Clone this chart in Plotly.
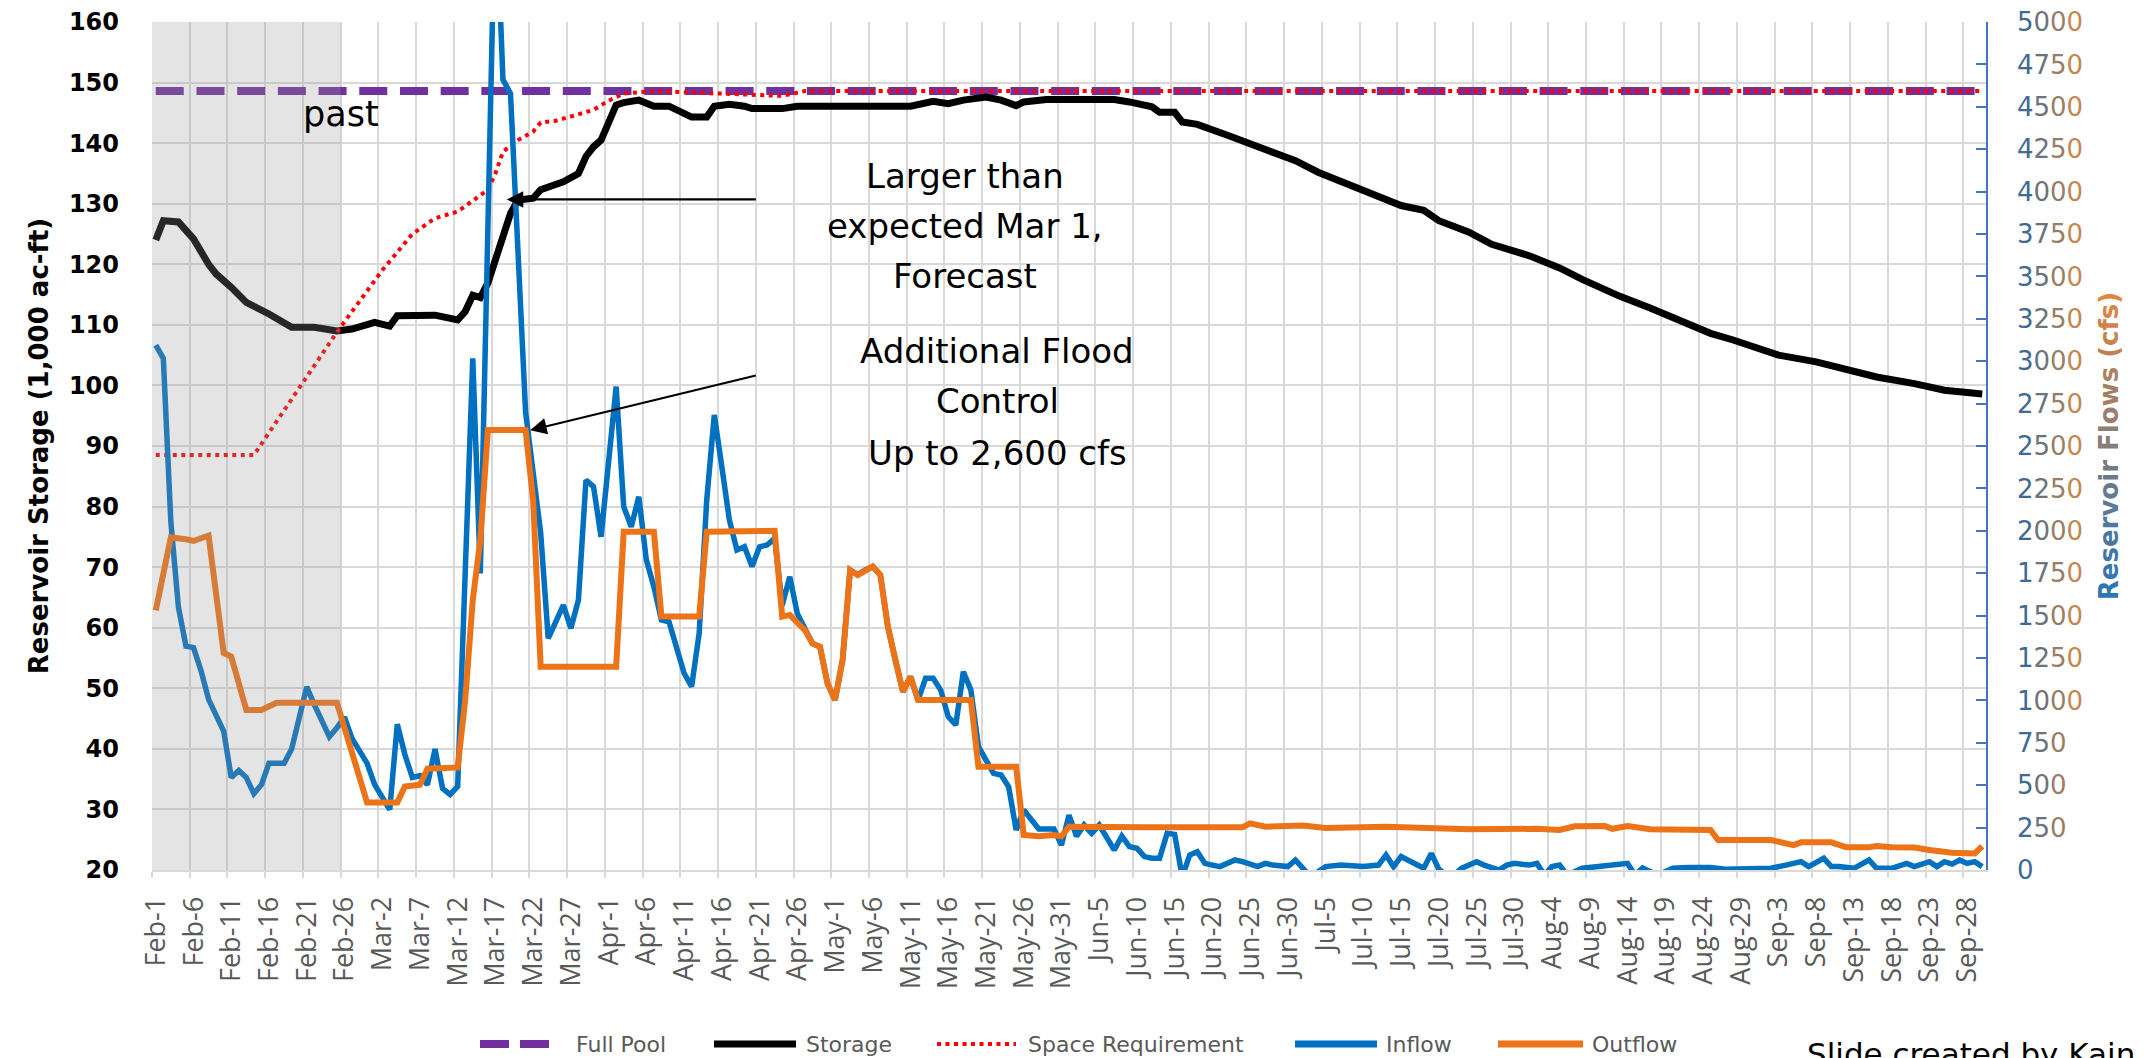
import plotly.graph_objects as go
import pandas as pd

YEAR = 2024
FULL_POOL = 148.6  # 1,000 ac-ft

# ---------------- data ----------------
storage_days = ["Feb-1", "Feb-2", "Feb-4", "Feb-6", "Feb-8", "Feb-9", "Feb-11", "Feb-13", "Feb-16", "Feb-19",
                "Feb-22", "Feb-24", "Feb-25", "Feb-27", "Mar-1", "Mar-3", "Mar-4", "Mar-9", "Mar-12", "Mar-13",
                "Mar-14", "Mar-15", "Mar-16", "Mar-19", "Mar-20", "Mar-22", "Mar-23", "Mar-26", "Mar-28", "Mar-29",
                "Mar-30", "Mar-31", "Apr-2", "Apr-3", "Apr-5", "Apr-7", "Apr-9", "Apr-12", "Apr-14", "Apr-15",
                "Apr-17", "Apr-19", "Apr-20", "Apr-24", "Apr-26", "May-11", "May-14", "May-16", "May-18", "May-21",
                "May-23", "May-25", "May-26", "May-29", "Jun-7", "Jun-9", "Jun-12", "Jun-13", "Jun-15", "Jun-16",
                "Jun-18", "Jun-22", "Jun-25", "Jun-28", "Jul-1", "Jul-4", "Jul-8", "Jul-11", "Jul-15", "Jul-18",
                "Jul-20", "Jul-24", "Jul-27", "Aug-1", "Aug-5", "Aug-8", "Aug-13", "Aug-17", "Aug-22", "Aug-25",
                "Aug-28", "Sep-3", "Sep-8", "Sep-13", "Sep-16", "Sep-21", "Sep-25", "Sep-30"]
storage_vals = [124.0, 127.2, 127.0, 124.2, 120.0, 118.4, 116.2, 113.7, 111.8, 109.6,
                109.6, 109.3, 109.0, 109.3, 110.4, 109.8, 111.5, 111.6, 110.8, 112.2,
                114.9, 114.5, 116.9, 128.4, 130.6, 130.9, 132.3, 133.6, 135.0, 137.8,
                139.4, 140.5, 146.3, 146.7, 147.1, 146.1, 146.1, 144.3, 144.3, 146.1,
                146.4, 146.1, 145.7, 145.7, 146.1, 146.1, 146.9, 146.5, 147.1, 147.6,
                147.1, 146.2, 146.8, 147.2, 147.2, 146.8, 146.0, 145.1, 145.1, 143.5,
                143.1, 141.3, 139.9, 138.5, 137.1, 135.2, 133.3, 131.9, 129.7, 128.9,
                127.2, 125.3, 123.3, 121.4, 119.4, 117.5, 114.7, 112.8, 110.3, 108.6,
                107.5, 105.0, 103.9, 102.5, 101.4, 100.3, 99.2, 98.6]

space_days = ["Feb-1", "Feb-14", "Feb-25", "Mar-2", "Mar-6", "Mar-9", "Mar-12", "Mar-14", "Mar-16", "Mar-17",
              "Mar-18", "Mar-20", "Mar-22", "Mar-23", "Mar-25", "Mar-27", "Mar-30", "Apr-1", "Apr-3", "Apr-7",
              "Apr-15", "Apr-19", "Apr-24", "Apr-27", "Sep-30"]
space_vals = [88.5, 88.5, 108.8, 119.0, 125.0, 127.6, 128.7, 130.6, 132.3, 135.0,
              138.6, 140.5, 141.9, 143.4, 143.7, 144.4, 145.5, 147.0, 148.2, 148.6,
              148.2, 147.9, 147.8, 148.6, 148.6]

inflow_days = ["Feb-1", "Feb-2", "Feb-3", "Feb-4", "Feb-5", "Feb-6", "Feb-7", "Feb-8", "Feb-10", "Feb-11",
               "Feb-12", "Feb-13", "Feb-14", "Feb-15", "Feb-16", "Feb-18", "Feb-19", "Feb-21", "Feb-22", "Feb-23",
               "Feb-24", "Feb-25", "Feb-26", "Feb-27", "Feb-29", "Mar-1", "Mar-3", "Mar-4", "Mar-5", "Mar-6",
               "Mar-7", "Mar-8", "Mar-9", "Mar-10", "Mar-11", "Mar-12", "Mar-14", "Mar-15", "Mar-17", "Mar-18",
               "Mar-19", "Mar-21", "Mar-23", "Mar-24", "Mar-25", "Mar-26", "Mar-27", "Mar-28", "Mar-29", "Mar-30",
               "Mar-31", "Apr-1", "Apr-2", "Apr-3", "Apr-4", "Apr-5", "Apr-6", "Apr-7", "Apr-8", "Apr-9",
               "Apr-10", "Apr-11", "Apr-12", "Apr-13", "Apr-14", "Apr-15", "Apr-16", "Apr-17", "Apr-18", "Apr-19",
               "Apr-20", "Apr-21", "Apr-22", "Apr-23", "Apr-24", "Apr-25", "Apr-26", "Apr-27", "Apr-28", "Apr-29",
               "Apr-30", "May-1", "May-2", "May-3", "May-4", "May-5", "May-6", "May-7", "May-8", "May-9",
               "May-10", "May-11", "May-12", "May-13", "May-14", "May-15", "May-16", "May-17", "May-18", "May-19",
               "May-20", "May-22", "May-23", "May-24", "May-25", "May-26", "May-28", "May-30", "May-31", "Jun-1",
               "Jun-2", "Jun-3", "Jun-4", "Jun-5", "Jun-6", "Jun-7", "Jun-8", "Jun-9", "Jun-10", "Jun-11",
               "Jun-12", "Jun-13", "Jun-14", "Jun-15", "Jun-16", "Jun-17", "Jun-18", "Jun-19", "Jun-20", "Jun-21",
               "Jun-23", "Jun-24", "Jun-26", "Jun-27", "Jun-28", "Jun-30", "Jul-1", "Jul-2", "Jul-3", "Jul-5",
               "Jul-7", "Jul-10", "Jul-12", "Jul-13", "Jul-14", "Jul-15", "Jul-17", "Jul-18", "Jul-19", "Jul-20",
               "Jul-21", "Jul-22", "Jul-23", "Jul-25", "Jul-26", "Jul-28", "Jul-29", "Jul-30", "Aug-1", "Aug-2",
               "Aug-3", "Aug-4", "Aug-5", "Aug-6", "Aug-8", "Aug-10", "Aug-13", "Aug-14", "Aug-15", "Aug-16",
               "Aug-18", "Aug-20", "Aug-22", "Aug-25", "Aug-27", "Aug-30", "Sep-2", "Sep-4", "Sep-6", "Sep-7",
               "Sep-9", "Sep-10", "Sep-11", "Sep-13", "Sep-15", "Sep-16", "Sep-18", "Sep-20", "Sep-21", "Sep-23",
               "Sep-24", "Sep-25", "Sep-26", "Sep-27", "Sep-28", "Sep-29", "Sep-30"]
inflow_vals = [3095, 3017, 2050, 1550, 1320, 1311, 1174, 1006, 818, 545,
               587, 545, 450, 503, 629, 629, 713, 1080, 975, 881,
               786, 839, 901, 776, 629, 503, 356, 860, 681, 545,
               556, 503, 713, 480, 445, 493, 3017, 1749, 5810, 4660,
               4579, 2700, 1987, 1366, 1474, 1562, 1425, 1592, 2299, 2260,
               1965, 2378, 2850, 2142, 2024, 2201, 1828, 1670, 1474, 1464,
               1317, 1160, 1081, 1396, 2182, 2683, 2378, 2064, 1887, 1906,
               1789, 1906, 1916, 1955, 1560, 1729, 1513, 1415, 1336, 1317,
               1101, 1002, 1238, 1769, 1740, 1769, 1789, 1740, 1435, 1238,
               1051, 1140, 1002, 1130, 1130, 1061, 904, 855, 1169, 1061,
               727, 570, 560, 491, 236, 354, 242, 242, 147, 324,
               199, 265, 216, 265, 196, 118, 200, 138, 128, 79,
               69, 69, 216, 210, -40, 88, 108, 39, 29, 20,
               59, 49, 20, 39, 29, 20, 59, 10, -40, 20,
               29, 20, 29, 88, 20, 79, 29, 10, 98, 5,
               -30, -30, 10, 49, 29, 0, 29, 39, 29, 39,
               -30, 20, 29, -30, 10, 20, 29, 39, -30, 12,
               -30, 10, 15, 15, 5, 10, 10, 29, 49, 20,
               69, 20, 20, 10, 59, 10, 10, 39, 20, 49,
               20, 49, 35, 59, 39, 49, 20]

outflow_days = ["Feb-1", "Feb-3", "Feb-5", "Feb-6", "Feb-8", "Feb-10", "Feb-11", "Feb-13", "Feb-15", "Feb-16",
                "Feb-17", "Feb-25", "Feb-29", "Mar-4", "Mar-5", "Mar-7", "Mar-8", "Mar-12", "Mar-13", "Mar-14",
                "Mar-15", "Mar-16", "Mar-21", "Mar-22", "Mar-23", "Apr-2", "Apr-3", "Apr-7", "Apr-8", "Apr-13",
                "Apr-14", "Apr-23", "Apr-24", "Apr-25", "Apr-27", "Apr-28", "Apr-29", "Apr-30", "May-1", "May-2",
                "May-3", "May-4", "May-5", "May-6", "May-7", "May-8", "May-9", "May-10", "May-11", "May-12",
                "May-19", "May-20", "May-25", "May-26", "May-28", "May-30", "May-31", "Jun-1", "Jun-11", "Jun-24",
                "Jun-25", "Jun-27", "Jul-2", "Jul-5", "Jul-13", "Jul-24", "Aug-2", "Aug-5", "Aug-7", "Aug-11",
                "Aug-12", "Aug-14", "Aug-17", "Aug-24", "Aug-25", "Aug-26", "Sep-2", "Sep-5", "Sep-6", "Sep-10",
                "Sep-12", "Sep-15", "Sep-16", "Sep-18", "Sep-21", "Sep-23", "Sep-26", "Sep-29", "Sep-30"]
outflow_vals = [1531, 1961, 1950, 1940, 1972, 1279, 1258, 943, 943, 969,
                986, 986, 398, 398, 492, 503, 597, 605, 1002, 1592,
                1946, 2594, 2594, 2182, 1199, 1199, 1995, 1995, 1494, 1494,
                1995, 2000, 1494, 1504, 1415, 1336, 1317, 1101, 1002, 1238,
                1769, 1740, 1769, 1789, 1740, 1435, 1238, 1051, 1140, 1002,
                1002, 609, 609, 206, 199, 206, 199, 255, 252, 252,
                275, 255, 262, 248, 255, 240, 243, 236, 258, 259,
                243, 259, 240, 242, 236, 177, 177, 147, 163, 163,
                134, 134, 141, 134, 132, 118, 102, 98, 140]

tick_dates = pd.date_range(f"{YEAR}-02-01", f"{YEAR}-09-28", freq="5D")
tick_text = [f"{d.strftime('%b')}-{d.day}" for d in tick_dates]
flow_ticks = list(range(0, 5001, 250))

# ---------------- helpers ----------------
def to_x(labels):
    # each category (day) is centred at noon, like Excel's category axis
    return pd.to_datetime([f"{YEAR}-{s}" for s in labels], format="%Y-%b-%d") + pd.Timedelta(hours=12)

def mix(c0, c1, t):
    a = [int(c0[i:i + 2], 16) for i in (1, 3, 5)]
    b = [int(c1[i:i + 2], 16) for i in (1, 3, 5)]
    return "#" + "".join(f"{round(a[i] + (b[i] - a[i]) * t):02x}" for i in range(3))

def gradient(s, c0, c1, n=None):
    n = n or len(s)
    out = []
    for i, ch in enumerate(s):
        t = i / max(n - 1, 1)
        out.append(f'<span style="color:{mix(c0, c1, t)}">{ch}</span>')
    return "".join(out)

PURPLE = "#7030A0"
BLUE = "#0070C0"
ORANGE = "#EC7317"
RED = "#FF0000"
GRID = "#D9D9D9"
LABEL_GREY = "#595959"

# plot area in pixels (for paper-referenced legend/footer items)
L, R, T, B = 152, 1986, 22, 870
def px(x):
    return (x - L) / (R - L)
def py(y):
    return (B - y) / (B - T)

fig = go.Figure()

x_all = to_x(["Feb-1", "Sep-30"])
fig.add_trace(go.Scatter(x=x_all, y=[FULL_POOL, FULL_POOL], mode="lines", name="Full Pool",
                         line=dict(color=PURPLE, width=8, dash="28px,12.7px")))
fig.add_trace(go.Scatter(x=to_x(storage_days), y=storage_vals, mode="lines", name="Storage",
                         line=dict(color="black", width=7)))
fig.add_trace(go.Scatter(x=to_x(space_days), y=space_vals, mode="lines", name="Space Requirement",
                         line=dict(color=RED, width=4, dash="4px,4.5px")))
fig.add_trace(go.Scatter(x=to_x(inflow_days), y=inflow_vals, mode="lines", name="Inflow", yaxis="y2",
                         line=dict(color=BLUE, width=5.5)))
fig.add_trace(go.Scatter(x=to_x(outflow_days), y=outflow_vals, mode="lines", name="Outflow", yaxis="y2",
                         line=dict(color=ORANGE, width=6)))

right_title = gradient("Reservoir Flows (cfs)", "#2E75B6", "#E3843C")
right_ticktext = [gradient(str(v), "#3F6A93", "#C4884F", 4) for v in flow_ticks]

fig.update_layout(
    width=2147, height=1058, autosize=False,
    template="none",
    paper_bgcolor="white", plot_bgcolor="white",
    margin=dict(l=L, r=2147 - R, t=T, b=1058 - B, pad=0),
    showlegend=False,
    xaxis=dict(
        type="date", range=[f"{YEAR}-02-01", f"{YEAR}-10-01"],
        tickvals=tick_dates, ticktext=tick_text, tickangle=-90,
        tickfont=dict(family="Open Sans", size=27, color=LABEL_GREY),
        ticks="outside", ticklen=6, tickcolor=GRID, tickwidth=1.5,
        ticklabelstandoff=8, ticklabelshift=4,
        showgrid=True, gridcolor=GRID, gridwidth=2,
        showline=True, linecolor=GRID, linewidth=2,
        zeroline=False, automargin=False,
    ),
    yaxis=dict(
        range=[20, 160], tick0=20, dtick=10,
        tickfont=dict(family="DejaVu Sans", size=24, color="black", weight="bold"),
        ticks="", ticklabelstandoff=32,
        showgrid=True, gridcolor=GRID, gridwidth=2, zeroline=False, showline=False,
        title=dict(text="Reservoir Storage (1,000 ac-ft)", standoff=12,
                   font=dict(family="DejaVu Sans", size=26, color="black", weight="bold")),
        automargin=False,
    ),
    yaxis2=dict(
        overlaying="y", side="right", range=[0, 5000],
        tickvals=flow_ticks, ticktext=right_ticktext,
        tickfont=dict(family="DejaVu Sans", size=26, color="#5B7086"),
        ticks="inside", ticklen=10, tickwidth=1.5, tickcolor="#4472C4",
        ticklabelstandoff=24,
        showline=True, linecolor="#4472C4", linewidth=1.5,
        showgrid=False, zeroline=False,
        title=dict(text=right_title, standoff=18,
                   font=dict(family="DejaVu Sans", size=26, weight="bold")),
        automargin=False,
    ),
)

# "past" shading drawn over the lines, as in the original
fig.add_shape(type="rect", xref="x", yref="paper", x0=f"{YEAR}-02-01", x1=f"{YEAR}-02-26", y0=0, y1=1,
              fillcolor="rgba(150,150,150,0.26)", line=dict(width=0), layer="above")

ann = []
ann.append(dict(x=f"{YEAR}-02-26 02:24", y=144.8, xref="x", yref="y", text="past", showarrow=False,
                font=dict(family="DejaVu Sans", size=35, color="black"), xanchor="center", yanchor="middle"))
for txt, yv in [("Larger than", 134.5), ("expected Mar 1,", 126.3), ("Forecast", 118.1)]:
    ann.append(dict(x=f"{YEAR}-05-18 16:48", y=yv, xref="x", yref="y", text=txt, showarrow=False,
                    font=dict(family="DejaVu Sans", size=34, color="black"), xanchor="center", yanchor="middle"))
for txt, yv in [("Additional Flood", 105.7), ("Control", 97.5), ("Up to 2,600 cfs", 88.9)]:
    ann.append(dict(x=f"{YEAR}-05-23 00:00", y=yv, xref="x", yref="y", text=txt, showarrow=False,
                    font=dict(family="DejaVu Sans", size=34, color="black"), xanchor="center", yanchor="middle"))
# arrows
ann.append(dict(x=f"{YEAR}-03-19 00:00", y=130.7, ax=f"{YEAR}-04-21 04:48", ay=130.7,
                xref="x", yref="y", axref="x", ayref="y", text="", showarrow=True,
                arrowhead=2, arrowsize=1.5, arrowwidth=2.2, arrowcolor="black", standoff=0))
ann.append(dict(x=f"{YEAR}-03-22 02:24", y=92.6, ax=f"{YEAR}-04-21 04:48", ay=101.7,
                xref="x", yref="y", axref="x", ayref="y", text="", showarrow=True,
                arrowhead=2, arrowsize=1.5, arrowwidth=2.2, arrowcolor="black", standoff=0))

# legend (drawn by hand to match the original layout)
LEG_Y = 1044
legend_items = [
    ("Full Pool", 480, 549, 574, dict(color=PURPLE, width=8, dash="29px,11px")),
    ("Storage", 714, 796, 804, dict(color="black", width=7)),
    ("Space Requirement", 937, 1016, 1026, dict(color=RED, width=4, dash="4px,4.5px")),
    ("Inflow", 1295, 1377, 1384, dict(color=BLUE, width=7)),
    ("Outflow", 1498, 1583, 1590, dict(color=ORANGE, width=7)),
]
for name, x0, x1, xt, ln in legend_items:
    fig.add_shape(type="line", xref="paper", yref="paper", x0=px(x0), x1=px(x1), y0=py(LEG_Y), y1=py(LEG_Y),
                  line=ln)
    ann.append(dict(x=px(xt), y=py(LEG_Y), xref="paper", yref="paper", text=name, showarrow=False,
                    xanchor="left", yanchor="middle",
                    font=dict(family="DejaVu Sans", size=22, color=LABEL_GREY)))

ann.append(dict(x=px(1805), y=py(1034), xref="paper", yref="paper", text="Slide created by Kain",
                showarrow=False, xanchor="left", yanchor="top",
                font=dict(family="DejaVu Sans", size=31, color="black")))

fig.update_layout(annotations=ann)
# remove the browser's default page margin so the figure fills the window exactly
fig.write_html("out.html", config={"displayModeBar": False},
               post_script="document.body.style.margin='0px';")
